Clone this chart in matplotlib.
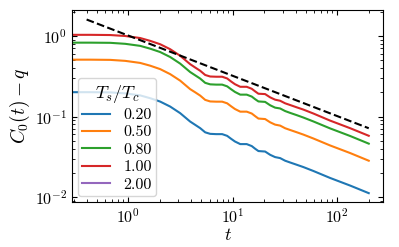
import numpy as np
import matplotlib
matplotlib.use("Agg")
from matplotlib import pyplot as plt

plt.rcParams['mathtext.fontset'] = 'cm'
plt.rcParams['font.family'] = 'serif'
plt.rcParams['font.serif'] = ['cmr10', 'DejaVu Serif']
plt.rcParams['axes.formatter.use_mathtext'] = True
plt.rcParams['font.size'] = 10

# time points
t = [0.291, 0.433, 0.673, 0.936, 1.30, 1.62, 2.02, 2.52, 3.14, 3.91, 4.37, 4.88,
     5.45, 6.08, 6.94, 7.92, 8.84, 9.65, 10.5, 11.8, 13.6, 15.2, 16.4, 17.6,
     20.4, 22.8, 25.4, 28.4, 31.7, 35.4, 41.0, 47.4, 59.1, 85.3, 133.0, 200.0]

c_020 = [0.2006, 0.2006, 0.1995, 0.1939, 0.1831, 0.1690, 0.1534, 0.1330, 0.1102,
         0.0867, 0.0789, 0.0718, 0.0637, 0.0610, 0.0605, 0.0605, 0.0576, 0.0529,
         0.0490, 0.0455, 0.0455, 0.0430, 0.0398, 0.0373, 0.0368, 0.0335, 0.0314,
         0.0305, 0.0283, 0.0269, 0.0252, 0.0236, 0.0211, 0.0173, 0.0139, 0.0112]
c_050 = [0.508, 0.508, 0.505, 0.491, 0.463, 0.428, 0.388, 0.336, 0.279, 0.219,
         0.200, 0.182, 0.161, 0.154, 0.153, 0.153, 0.146, 0.134, 0.124, 0.115,
         0.115, 0.109, 0.101, 0.0944, 0.0931, 0.0848, 0.0794, 0.0772, 0.0716,
         0.0681, 0.0638, 0.0597, 0.0534, 0.0438, 0.0352, 0.0283]
c_080 = [0.826, 0.826, 0.822, 0.799, 0.754, 0.696, 0.632, 0.548, 0.454, 0.357,
         0.325, 0.296, 0.262, 0.251, 0.249, 0.249, 0.237, 0.218, 0.202, 0.187,
         0.187, 0.177, 0.164, 0.154, 0.152, 0.138, 0.129, 0.126, 0.117, 0.111,
         0.104, 0.0972, 0.0869, 0.0713, 0.0573, 0.0461]
c_100 = [1.033, 1.033, 1.027, 0.999, 0.943, 0.870, 0.790, 0.685, 0.568, 0.447,
         0.406, 0.370, 0.328, 0.314, 0.312, 0.312, 0.297, 0.272, 0.252, 0.234,
         0.234, 0.221, 0.205, 0.192, 0.190, 0.173, 0.162, 0.157, 0.146, 0.139,
         0.130, 0.122, 0.109, 0.0891, 0.0716, 0.0577]
c_200 = []  # not visible in the plot range

labels = ["0.20", "0.50", "0.80", "1.00", "2.00"]
series = [c_020, c_050, c_080, c_100, c_200]
colors = ["tab:blue", "tab:orange", "tab:green", "tab:red", "tab:purple"]

# power law guide
t_guide = [0.4, 200.0]
guide = [1.6, 0.0716]

fig, ax = plt.subplots(figsize=(3.99, 2.47), dpi=100)
fig.subplots_adjust(left=0.1805, right=0.96, top=0.9595, bottom=0.1822)

for vals, lab, col in zip(series, labels, colors):
    ax.plot(t[:len(vals)], vals, color=col, label=lab, lw=1.5)
ax.plot(t_guide, guide, "k--", lw=1.5)

ax.set_xscale("log")
ax.set_yscale("log")
ax.set_xlim(0.29, 274)
ax.set_ylim(0.0087, 2.1)
ax.tick_params(which="both", direction="in", top=True, right=True, labelsize=11.5)
ax.set_xlabel(r"$t$", fontsize=13, labelpad=1)
ax.set_ylabel(r"$C_0(t)-q$", fontsize=14, labelpad=2)
leg = ax.legend(title=r"$T_s/T_c$", loc="lower left", fontsize=11.5,
                title_fontsize=13, labelspacing=0.2, handlelength=1.75,
                borderpad=0.3, borderaxespad=0.35)

fig.savefig("out.png", dpi=100)
